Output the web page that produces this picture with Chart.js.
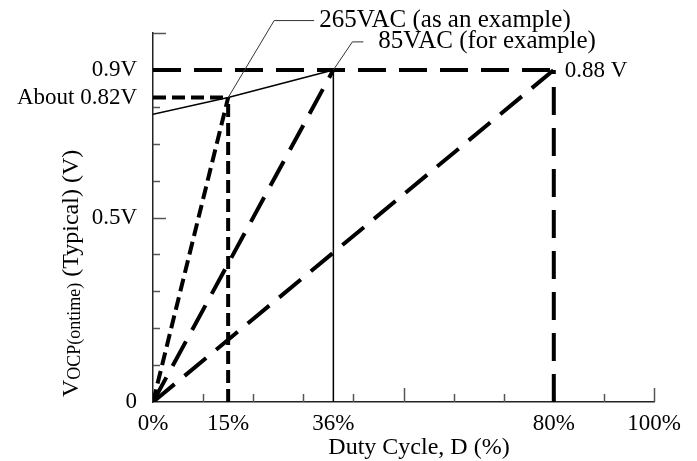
<!DOCTYPE html>
<html>
<head>
<meta charset="utf-8">
<script src="https://cdn.jsdelivr.net/npm/chart.js@4.4.0/dist/chart.umd.min.js"></script>
<style>
  html, body { margin: 0; padding: 0; background: #fff; }
  #wrap { position: relative; width: 697px; height: 461px; }
</style>
</head>
<body>
<div id="wrap"><canvas id="ocpChart" width="697" height="461"></canvas></div>
<script>
// axis ticks
const xTickVals = [0, 15, 36, 80, 100];
const yTickVals = [0, 0.5, 0.825, 0.9];
const yTickLabels = ['0', '0.5V', 'About 0.82V', '0.9V'];
const xMinorTicks = [10, 20, 30, 40, 50, 60, 70, 80, 90, 100];
const xLongTicks = [50, 100];
const yMinorTicks = [0.1, 0.2, 0.3, 0.4, 0.5, 0.6, 0.7, 0.8, 0.9, 1.0];
const yLongTicks = [0.5, 1.0];

// V_OCP(ontime) characteristic (solid)
const ocpDuty = [0, 15, 36];
const ocpVolt = [0.78, 0.825, 0.9];
const vert36Duty = [36, 36];
const vert36Volt = [0, 0.9];

// 265VAC (short dash)
const ramp265Duty = [0, 15];
const ramp265Volt = [0, 0.825];
const vert15Duty = [15, 15];
const vert15Volt = [0, 0.825];
const level082Duty = [0, 15];
const level082Volt = [0.825, 0.825];

// 85VAC and max (long dash)
const ramp85Duty = [0, 36];
const ramp85Volt = [0, 0.9];
const level09Duty = [0, 80];
const level09Volt = [0.9, 0.9];
const vert80Duty = [80, 80];
const vert80Volt = [0, 0.9];
const rampMaxDuty = [0, 80];
const rampMaxVolt = [0, 0.9];

const FONT = '"Liberation Serif", "Times New Roman", serif';

function pts(xs, ys) {
    return xs.map((v, i) => ({x: v, y: ys[i]}));
}
function seg(xs, ys, width, dash) {
    return {
        data: pts(xs, ys),
        showLine: true,
        borderColor: '#000',
        borderWidth: width,
        borderDash: dash,
        borderCapStyle: 'butt',
        borderJoinStyle: 'miter',
        pointRadius: 0,
        tension: 0
    };
}

const shortDash = [13, 6];
const longDash = [28, 13];

const datasets = [
    seg(ramp265Duty, ramp265Volt, 4, shortDash),
    seg(vert15Duty, vert15Volt, 4, shortDash),
    seg(level082Duty, level082Volt, 4, shortDash),
    seg(ramp85Duty, ramp85Volt, 4, longDash),
    seg(level09Duty, level09Volt, 4, longDash),
    seg(vert80Duty, vert80Volt, 4, longDash),
    seg(rampMaxDuty, rampMaxVolt, 4, longDash),
    seg(ocpDuty, ocpVolt, 1.5, []),
    seg(vert36Duty, vert36Volt, 1.5, [])
];

const innerTicks = {
    id: 'innerTicks',
    beforeDatasetsDraw(chart) {
        const {ctx, scales: {x, y}} = chart;
        ctx.save();
        ctx.strokeStyle = '#555';
        ctx.lineWidth = 1.5;
        xMinorTicks.forEach(v => {
            const px = Math.round(x.getPixelForValue(v)) + 0.5;
            const len = xLongTicks.includes(v) ? 14 : 8;
            ctx.beginPath();
            ctx.moveTo(px, y.bottom);
            ctx.lineTo(px, y.bottom - len);
            ctx.stroke();
        });
        yMinorTicks.forEach(v => {
            const py = Math.round(y.getPixelForValue(v)) + 0.5;
            const len = yLongTicks.includes(v) ? 13 : 7;
            ctx.beginPath();
            ctx.moveTo(x.left, py);
            ctx.lineTo(x.left + len, py);
            ctx.stroke();
        });
        ctx.restore();
    }
};

const annotations = {
    id: 'annotations',
    afterDraw(chart) {
        const {ctx, scales: {x, y}} = chart;
        ctx.save();
        ctx.fillStyle = '#000';
        ctx.textBaseline = 'middle';
        ctx.textAlign = 'left';
        ctx.font = '25px ' + FONT;

        // leader to 265VAC point
        ctx.strokeStyle = '#333';
        ctx.lineWidth = 1;
        const p1 = {x: x.getPixelForValue(ocpDuty[1]), y: y.getPixelForValue(ocpVolt[1])};
        ctx.beginPath();
        ctx.moveTo(p1.x, p1.y);
        ctx.lineTo(p1.x + 46, p1.y - 77);
        ctx.lineTo(p1.x + 86, p1.y - 77);
        ctx.stroke();
        ctx.fillText('265VAC (as an example)', p1.x + 91, p1.y - 77);

        // leader to 85VAC point
        const p2 = {x: x.getPixelForValue(ocpDuty[2]), y: y.getPixelForValue(ocpVolt[2])};
        ctx.beginPath();
        ctx.moveTo(p2.x, p2.y);
        ctx.lineTo(p2.x + 19, p2.y - 28);
        ctx.lineTo(p2.x + 30, p2.y - 28);
        ctx.stroke();
        ctx.fillText('85VAC (for example)', p2.x + 45, p2.y - 28);

        // max point label
        ctx.font = '23px ' + FONT;
        const p3 = {x: x.getPixelForValue(vert80Duty[1]), y: y.getPixelForValue(vert80Volt[1])};
        ctx.fillText('0.88 V', p3.x + 11, p3.y + 1);

        // x title
        ctx.font = '24px ' + FONT;
        ctx.textAlign = 'center';
        ctx.fillText('Duty Cycle, D (%)', 419, 448);

        // y title with subscript
        ctx.translate(78, 397);
        ctx.rotate(-Math.PI / 2);
        ctx.textAlign = 'left';
        ctx.textBaseline = 'alphabetic';
        let cx = 0;
        ctx.font = '24px ' + FONT;
        ctx.fillText('V', cx, 0);
        cx += ctx.measureText('V').width;
        ctx.font = '18px ' + FONT;
        ctx.fillText('OCP(ontime)', cx, 2);
        cx += ctx.measureText('OCP(ontime)').width;
        ctx.font = '24px ' + FONT;
        ctx.fillText(' (Typical) (V)', cx, 0);
        ctx.restore();
    }
};

new Chart(document.getElementById('ocpChart'), {
    type: 'scatter',
    data: {datasets: datasets},
    options: {
        responsive: false,
        animation: false,
        devicePixelRatio: 1,
        layout: {padding: {left: 0, right: 43, top: 33, bottom: 0}},
        plugins: {legend: {display: false}, tooltip: {enabled: false}},
        scales: {
            x: {
                type: 'linear',
                min: 0,
                max: 100,
                afterFit: scale => { scale.height = 59; },
                afterBuildTicks: scale => { scale.ticks = xTickVals.map(v => ({value: v})); },
                grid: {display: false, drawTicks: false},
                border: {display: true, color: '#222', width: 1.5},
                ticks: {
                    autoSkip: false,
                    maxRotation: 0,
                    padding: 8,
                    color: '#000',
                    font: {family: FONT, size: 23},
                    callback: v => v + '%'
                }
            },
            y: {
                type: 'linear',
                min: 0,
                max: 1,
                afterFit: scale => { scale.width = 153; },
                afterBuildTicks: scale => { scale.ticks = yTickVals.map(v => ({value: v})); },
                grid: {display: false, drawTicks: false},
                border: {display: true, color: '#222', width: 1.5},
                ticks: {
                    autoSkip: false,
                    padding: 16,
                    color: '#000',
                    font: {family: FONT, size: 23},
                    callback: v => yTickLabels[yTickVals.indexOf(v)]
                }
            }
        }
    },
    plugins: [innerTicks, annotations]
});
</script>
</body>
</html>
